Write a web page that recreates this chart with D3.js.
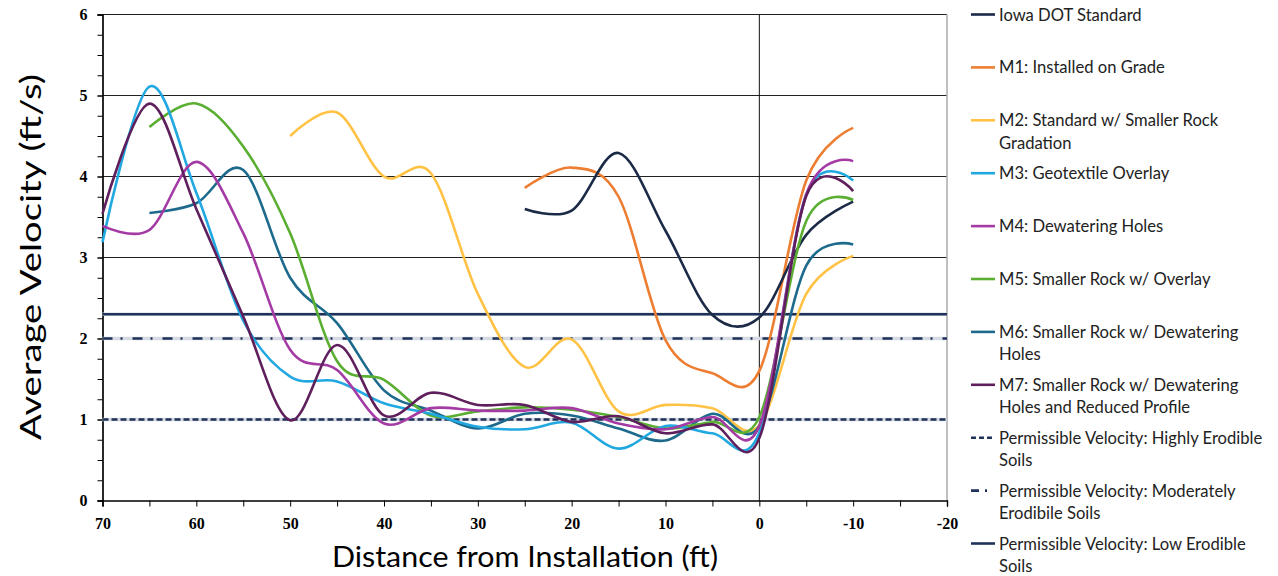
<!DOCTYPE html>
<html>
<head>
<meta charset="utf-8">
<script src="https://cdn.jsdelivr.net/npm/d3@7"></script>
<style>
body { margin: 0; background: #fff; }
svg { display: block; }
.tick text { font-family: "Liberation Serif", "Times New Roman", serif; font-weight: bold; font-size: 16px; fill: #000; }
.domain, .tick line { stroke: #000; }
</style>
</head>
<body>
<svg id="chart" width="1278" height="576"></svg>
<script>
// distances (ft) where velocity was measured
var distance = [70, 65, 60, 55, 50, 45, 40, 35, 30, 25, 20, 15, 10, 5, 0, -5, -10];

var iowaDot = [null, null, null, null, null, null, null, null, null, 3.60, 3.58, 4.29, 3.33, 2.29, 2.26, 3.28, 3.69];
var m1 = [null, null, null, null, null, null, null, null, null, 3.86, 4.11, 3.75, 1.98, 1.57, 1.60, 3.95, 4.60];
var m2 = [null, null, null, null, 4.50, 4.79, 4.00, 4.04, 2.55, 1.65, 1.99, 1.10, 1.18, 1.14, 0.93, 2.55, 3.02];
var m3 = [3.19, 5.11, 3.80, 2.22, 1.53, 1.47, 1.20, 1.07, 0.91, 0.88, 0.96, 0.64, 0.92, 0.83, 0.84, 3.78, 3.95];
var m4 = [3.39, 3.34, 4.18, 3.30, 1.86, 1.61, 0.95, 1.14, 1.11, 1.11, 1.14, 0.95, 0.88, 1.03, 0.92, 3.78, 4.19];
var m5 = [null, 4.61, 4.90, 4.37, 3.30, 1.72, 1.49, 1.05, 1.10, 1.15, 1.12, 1.03, 0.89, 0.97, 1.03, 3.45, 3.71];
var m6 = [null, 3.55, 3.67, 4.08, 2.75, 2.19, 1.36, 1.11, 0.89, 1.07, 1.05, 0.89, 0.74, 1.07, 0.92, 2.90, 3.16];
var m7 = [3.54, 4.90, 3.60, 2.27, 0.99, 1.92, 1.05, 1.33, 1.18, 1.18, 0.97, 1.04, 0.83, 0.94, 0.77, 3.76, 3.82];

var seriesNames = ["Iowa DOT Standard", "M1: Installed on Grade", "M2: Standard w/ Smaller Rock Gradation",
		   "M3: Geotextile Overlay", "M4: Dewatering Holes", "M5: Smaller Rock w/ Overlay",
		   "M6: Smaller Rock w/ Dewatering Holes", "M7: Smaller Rock w/ Dewatering Holes and Reduced Profile"];
var seriesValues = [iowaDot, m1, m2, m3, m4, m5, m6, m7];
var seriesColors = ["#1b2a47", "#ed7d31", "#ffc245", "#22a8e0", "#a43ba5", "#5aae32", "#1d6a8c", "#5e1f5c"];

// permissible velocity thresholds (ft/s)
var permissibleNames = ["Permissible Velocity: Highly Erodible Soils",
			"Permissible Velocity: Moderately Erodibile Soils",
			"Permissible Velocity: Low Erodible Soils"];
var permissibleValues = [1.0, 2.0, 2.3];
var permissibleDash = ["6,3", "10,8,2,10", null];

var yTicks = [0, 1, 2, 3, 4, 5, 6];
var xTicks = [70, 60, 50, 40, 30, 20, 10, 0, -10, -20];

// legend text wrapped the way the picture shows it
var legendLines = [
    ["Iowa DOT Standard"],
    ["M1: Installed on Grade"],
    ["M2: Standard w/ Smaller Rock", "Gradation"],
    ["M3: Geotextile Overlay"],
    ["M4: Dewatering Holes"],
    ["M5: Smaller Rock w/ Overlay"],
    ["M6: Smaller Rock w/ Dewatering", "Holes"],
    ["M7: Smaller Rock w/ Dewatering", "Holes and Reduced Profile"],
    ["Permissible Velocity: Highly Erodible", "Soils"],
    ["Permissible Velocity: Moderately", "Erodibile Soils"],
    ["Permissible Velocity: Low Erodible", "Soils"]
];

var svg = d3.select("#chart");
var navy = "#1f3259";

var x = d3.scaleLinear().domain([70, -20]).range([102.5, 947]);
var y = d3.scaleLinear().domain([0, 6]).range([500.5, 14.5]);

// grid
svg.append("g").selectAll("line")
    .data(yTicks.slice(1))
    .join("line")
    .attr("x1", x(70)).attr("x2", x(-20))
    .attr("y1", function(d){ return y(d); })
    .attr("y2", function(d){ return y(d); })
    .attr("stroke", "#222")
    .attr("stroke-width", 1);

svg.append("line")
    .attr("x1", x(-20)).attr("x2", x(-20))
    .attr("y1", y(6)).attr("y2", y(0))
    .attr("stroke", "#aaa").attr("stroke-width", 1.5);

svg.append("line")
    .attr("x1", x(0)).attr("x2", x(0))
    .attr("y1", y(6)).attr("y2", y(0))
    .attr("stroke", "#111").attr("stroke-width", 1);

// axes
var yAxis = d3.axisLeft(y).tickValues(yTicks).tickSize(5).tickPadding(10)
    .tickFormat(function(d){ return String(d); });
var yMinor = d3.axisLeft(y).tickValues(d3.range(0, 6.01, 0.25)).tickSize(5).tickFormat("");
var xAxis = d3.axisBottom(x).tickValues(xTicks).tickSize(6).tickPadding(11)
    .tickFormat(function(d){ return String(d); });
var xMinor = d3.axisBottom(x).tickValues(d3.range(-15, 70, 10)).tickSize(6).tickFormat("");

svg.append("g").attr("transform", "translate(" + x(70) + ",0)").call(yMinor);
svg.append("g").attr("transform", "translate(" + x(70) + ",0)").call(yAxis);
svg.append("g").attr("transform", "translate(0," + y(0) + ")").call(xMinor);
svg.append("g").attr("transform", "translate(0," + y(0) + ")").call(xAxis);
svg.selectAll(".domain").attr("stroke-width", 1.2);

// permissible velocity lines
permissibleValues.forEach(function(v, i){
    svg.append("line")
	.attr("x1", x(70)).attr("x2", x(-20))
	.attr("y1", y(v)).attr("y2", y(v))
	.attr("stroke", "#d6dae2").attr("stroke-width", 3.6);
    svg.append("line")
	.attr("x1", x(70)).attr("x2", x(-20))
	.attr("y1", y(v)).attr("y2", y(v))
	.attr("stroke", navy).attr("stroke-width", 2.5)
	.attr("stroke-dasharray", permissibleDash[i]);
});

// smoothed series
var line = d3.line()
    .defined(function(d){ return d[1] != null; })
    .x(function(d){ return x(d[0]); })
    .y(function(d){ return y(d[1]); })
    .curve(d3.curveCardinal.tension(0));

var drawOrder = [2, 1, 0, 6, 5, 3, 4, 7];
drawOrder.forEach(function(i){
    var pts = distance.map(function(dx, j){ return [dx, seriesValues[i][j]]; });
    svg.append("path")
	.datum(pts)
	.attr("d", line)
	.attr("fill", "none")
	.attr("stroke", seriesColors[i])
	.attr("stroke-width", 2.6)
	.attr("stroke-linejoin", "round");
});

// axis titles
svg.append("text")
    .attr("x", 525).attr("y", 567)
    .attr("text-anchor", "middle")
    .attr("font-family", "Lato, sans-serif")
    .attr("font-size", 28)
    .attr("textLength", 386).attr("lengthAdjust", "spacingAndGlyphs")
    .text("Distance from Installation (ft)");

svg.append("text")
    .attr("transform", "translate(41,257) rotate(-90)")
    .attr("text-anchor", "middle")
    .attr("font-family", "Lato, sans-serif")
    .attr("font-size", 28)
    .attr("textLength", 366).attr("lengthAdjust", "spacingAndGlyphs")
    .text("Average Velocity (ft/s)");

// legend
var legendColors = seriesColors.concat([navy, navy, navy]);
var legendDash = [null, null, null, null, null, null, null, null].concat(["5,3", "8,6,2,20", null]);

var legend = svg.append("g").attr("transform", "translate(971,14.5)");
legendLines.forEach(function(lines, i){
    var g = legend.append("g").attr("transform", "translate(0," + (i * 52.9) + ")");
    g.append("line")
	.attr("x1", 0).attr("x2", 24)
	.attr("stroke", legendColors[i])
	.attr("stroke-width", 2.6)
	.attr("stroke-dasharray", legendDash[i]);
    lines.forEach(function(t, k){
	g.append("text")
	    .attr("x", 28).attr("y", 6 + k * 22.6)
	    .attr("font-family", "Lato, sans-serif")
	    .attr("font-size", 16.6)
	    .attr("fill", "#222")
	    .text(t);
    });
});
</script>
</body>
</html>
